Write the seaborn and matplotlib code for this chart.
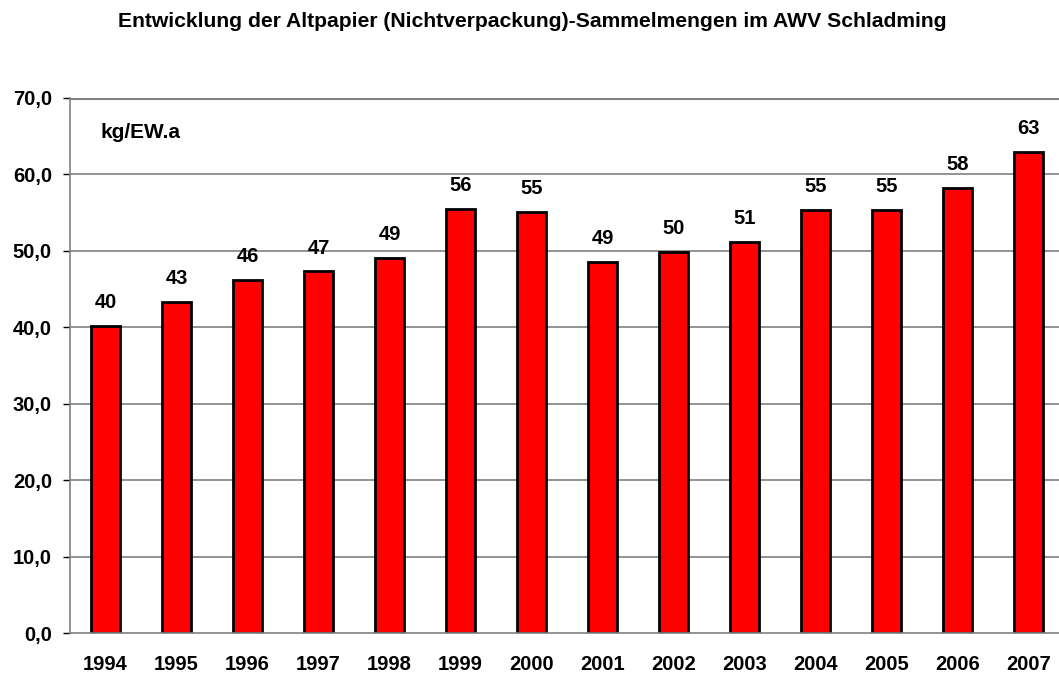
import matplotlib
matplotlib.use("Agg")
import matplotlib.pyplot as plt
import seaborn as sns
import numpy as np

years = ["1994", "1995", "1996", "1997", "1998", "1999", "2000",
         "2001", "2002", "2003", "2004", "2005", "2006", "2007"]
values = [40.2, 43.3, 46.2, 47.3, 49.1, 55.5, 55.1,
          48.6, 49.8, 51.2, 55.4, 55.4, 58.2, 62.9]
yticks = [0, 10, 20, 30, 40, 50, 60, 70]
title = "Entwicklung der Altpapier (Nichtverpackung)-Sammelmengen im AWV Schladming"
unit = "kg/EW.a"

sns.set_theme(style="white")
plt.rcParams["font.family"] = ["Liberation Sans", "DejaVu Sans"]
plt.rcParams["font.weight"] = "bold"
plt.rcParams["text.color"] = "black"
plt.rcParams["xtick.color"] = "black"
plt.rcParams["ytick.color"] = "black"
plt.rcParams["xtick.labelcolor"] = "black"
plt.rcParams["ytick.labelcolor"] = "black"

W, H = 1059, 675
fig = plt.figure(figsize=(W / 100, H / 100), dpi=100)
left, right, top, bottom = 70, 1064, 98, 633
ax = fig.add_axes([left / W, 1 - bottom / H, (right - left) / W, (bottom - top) / H])

sns.barplot(x=years, y=values, color="#ff0000", saturation=1, width=0.4,
            edgecolor="black", linewidth=2, ax=ax, zorder=3)
ax.set_xlim(-0.5, len(years) - 0.5)
ax.set_ylim(0, 70)

fs = 14.5
for c in ax.containers:
    ax.bar_label(c, labels=[f"{v:.0f}" for v in values], padding=10,
                 fontsize=fs, fontweight="bold", color="black")

ax.set_yticks(yticks)
ax.set_yticklabels([f"{v:.1f}".replace(".", ",") for v in yticks],
                   fontsize=fs, fontweight="bold")
for y in yticks[1:]:
    ax.axhline(y, color="#808080", lw=1.2 if y < 70 else 2.2, zorder=1)

ax.set_xticks(range(len(years)))
ax.set_xticklabels(years, fontsize=fs, fontweight="bold")
ax.set_xticks(np.arange(-0.5, len(years), 1.0), minor=True)
ax.tick_params(axis="x", which="major", length=0, pad=16)
ax.tick_params(axis="x", which="minor", length=5, width=1, color="black", direction="out")
ax.tick_params(axis="y", length=5, width=1, color="black", direction="out", pad=8, left=True)
ax.set_xlabel("")
ax.set_ylabel("")

for s in ["top", "right"]:
    ax.spines[s].set_visible(False)
for s in ["left", "bottom"]:
    ax.spines[s].set_color("#808080")
    ax.spines[s].set_linewidth(1.2)
    ax.spines[s].set_zorder(4)

ax.text(30 / (right - left), (bottom - 133) / (bottom - top), unit, transform=ax.transAxes,
        fontsize=15, fontweight="bold", va="center", ha="left")

fig.text(118 / W, 1 - 27 / H, title, fontsize=15.2, fontweight="bold", va="baseline", ha="left")

fig.savefig("out.png", dpi=100)
